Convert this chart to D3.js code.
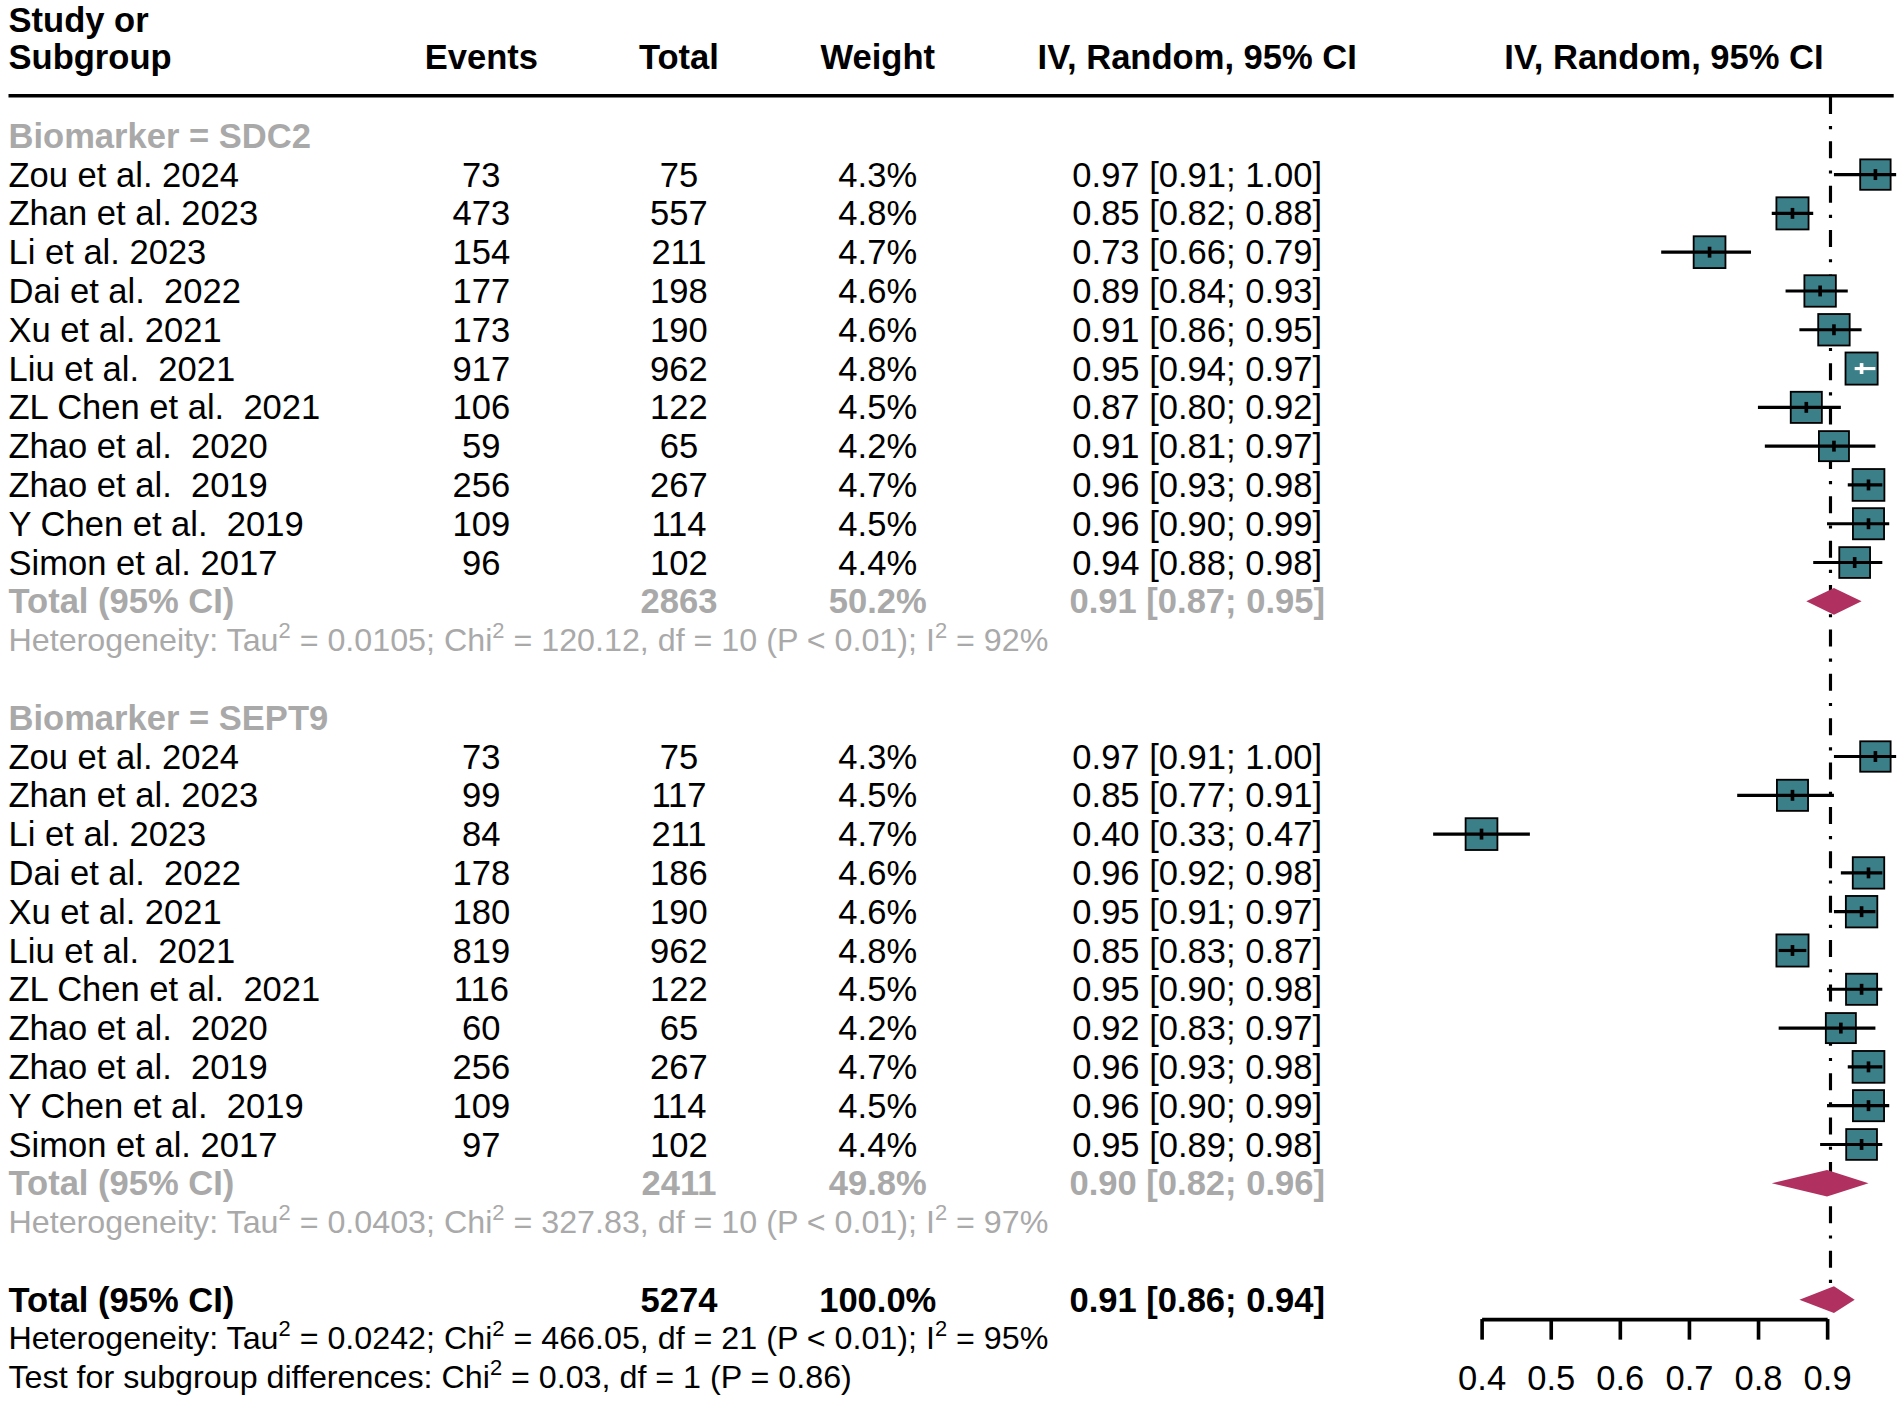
<!DOCTYPE html>
<html>
<head>
<meta charset="utf-8">
<script src="https://cdn.jsdelivr.net/npm/d3@7"></script>
<style>
  body { margin: 0; background: #fff; }
  text { font-family: "Liberation Sans", Arial, Helvetica, sans-serif; white-space: pre; }
</style>
</head>
<body>
<div class="forest"></div>
<script>
// study labels (same order in both subgroups)
var studies = ["Zou et al. 2024", "Zhan et al. 2023", "Li et al. 2023", "Dai et al.  2022",
               "Xu et al. 2021", "Liu et al.  2021", "ZL Chen et al.  2021", "Zhao et al.  2020",
               "Zhao et al.  2019", "Y Chen et al.  2019", "Simon et al. 2017"];
var subgroups = ["SDC2", "SEPT9"];

// SDC2
var sdc2Events = [73, 473, 154, 177, 173, 917, 106, 59, 256, 109, 96];
var sdc2Totals = [75, 557, 211, 198, 190, 962, 122, 65, 267, 114, 102];
var sdc2Weights = [4.3, 4.8, 4.7, 4.6, 4.6, 4.8, 4.5, 4.2, 4.7, 4.5, 4.4];
var sdc2Est = [0.97, 0.85, 0.73, 0.89, 0.91, 0.95, 0.87, 0.91, 0.96, 0.96, 0.94];
var sdc2Lo  = [0.91, 0.82, 0.66, 0.84, 0.86, 0.94, 0.80, 0.81, 0.93, 0.90, 0.88];
var sdc2Hi  = [1.00, 0.88, 0.79, 0.93, 0.95, 0.97, 0.92, 0.97, 0.98, 0.99, 0.98];

// SEPT9
var sept9Events = [73, 99, 84, 178, 180, 819, 116, 60, 256, 109, 97];
var sept9Totals = [75, 117, 211, 186, 190, 962, 122, 65, 267, 114, 102];
var sept9Weights = [4.3, 4.5, 4.7, 4.6, 4.6, 4.8, 4.5, 4.2, 4.7, 4.5, 4.4];
var sept9Est = [0.97, 0.85, 0.40, 0.96, 0.95, 0.85, 0.95, 0.92, 0.96, 0.96, 0.95];
var sept9Lo  = [0.91, 0.77, 0.33, 0.92, 0.91, 0.83, 0.90, 0.83, 0.93, 0.90, 0.89];
var sept9Hi  = [1.00, 0.91, 0.47, 0.98, 0.97, 0.87, 0.98, 0.97, 0.98, 0.99, 0.98];

// pooled: SDC2, SEPT9, overall
var poolTotals = [2863, 2411, 5274];
var poolWeights = [50.2, 49.8, 100.0];
var poolEst = [0.91, 0.90, 0.91];
var poolLo  = [0.87, 0.82, 0.86];
var poolHi  = [0.95, 0.96, 0.94];
var overallLine = 0.905;

// heterogeneity: SDC2, SEPT9, overall
var hetTau = ["0.0105", "0.0403", "0.0242"];
var hetChi = ["120.12", "327.83", "466.05"];
var hetDf = [10, 10, 21];
var hetP = ["P < 0.01", "P < 0.01", "P < 0.01"];
var hetI2 = [92, 97, 95];
var subDiffChi = "0.03", subDiffDf = 1, subDiffP = "0.86";

var axisTicks = [0.4, 0.5, 0.6, 0.7, 0.8, 0.9];

var grey = "#a9a9a9";
var teal = "#3b7f89";
var maroon = "#b03060";
var fs = 28.5, fsHet = 26.6;

var svg = d3.select('.forest').append('svg')
    .attr('width', 1901).attr('height', 1401)
    .attr('viewBox', '0 0 1568 1155.6');

var x = d3.scaleLinear().domain([0.4, 1.0]).range([1222, 1564]);
var rowY = function(i) { return 112 + 32 * i; };
var fmt2 = d3.format('.2f');
var ciText = function(e, l, h) { return fmt2(e) + ' [' + fmt2(l) + '; ' + fmt2(h) + ']'; };
var colEvents = 397, colTotal = 560, colWeight = 724, colCI = 987.5;

function txt(xp, y, s, opt) {
    opt = opt || {};
    return svg.append('text')
        .attr('x', xp).attr('y', y)
        .attr('font-size', opt.size || fs)
        .attr('font-weight', opt.bold ? 'bold' : 'normal')
        .attr('fill', opt.color || '#000')
        .attr('text-anchor', opt.anchor || 'start')
        .text(s);
}

// parts alternate normal text / superscript
function richText(xp, y, parts, color) {
    var t = svg.append('text').attr('x', xp).attr('y', y)
        .attr('font-size', fsHet).attr('fill', color);
    var shift = fsHet * 0.4;
    parts.forEach(function(p, i) {
        var ts = t.append('tspan').text(p);
        if (i % 2 === 1) ts.attr('font-size', fsHet * 0.68).attr('dy', -shift);
        else if (i > 0) ts.attr('dy', shift);
    });
}

// header
txt(7, 26, 'Study or', {bold: true});
txt(7, 57, 'Subgroup', {bold: true});
txt(colEvents, 57, 'Events', {bold: true, anchor: 'middle'});
txt(colTotal, 57, 'Total', {bold: true, anchor: 'middle'});
txt(colWeight, 57, 'Weight', {bold: true, anchor: 'middle'});
txt(colCI, 57, 'IV, Random, 95% CI', {bold: true, anchor: 'middle'});
txt(1372.5, 57, 'IV, Random, 95% CI', {bold: true, anchor: 'middle'});
svg.append('line').attr('x1', 7).attr('x2', 1562).attr('y1', 79).attr('y2', 79)
    .attr('stroke', '#000').attr('stroke-width', 3);

// reference line for the overall estimate
svg.append('line')
    .attr('x1', x(overallLine)).attr('x2', x(overallLine))
    .attr('y1', 80).attr('y2', rowY(30) - 10)
    .attr('stroke', '#000').attr('stroke-width', 2.6)
    .attr('stroke-dasharray', '14,10,2.6,10');

var groupData = [
    {events: sdc2Events, totals: sdc2Totals, weights: sdc2Weights, est: sdc2Est, lo: sdc2Lo, hi: sdc2Hi},
    {events: sept9Events, totals: sept9Totals, weights: sept9Weights, est: sept9Est, lo: sept9Lo, hi: sept9Hi}
];

function hetParts(k) {
    return ['Heterogeneity: Tau', '2', ' = ' + hetTau[k] + '; Chi', '2',
            ' = ' + hetChi[k] + ', df = ' + hetDf[k] + ' (' + hetP[k] + '); I', '2',
            ' = ' + hetI2[k] + '%'];
}

function diamond(k, row) {
    var cy = rowY(row), h = 11;
    svg.append('path')
        .attr('d', 'M' + x(poolLo[k]) + ',' + cy + 'L' + x(poolEst[k]) + ',' + (cy - h) +
                   'L' + x(poolHi[k]) + ',' + cy + 'L' + x(poolEst[k]) + ',' + (cy + h) + 'Z')
        .attr('fill', maroon);
}

groupData.forEach(function(g, k) {
    var base = k * 15;
    txt(7, rowY(base) + 10, 'Biomarker = ' + subgroups[k], {bold: true, color: grey});

    studies.forEach(function(s, i) {
        var r = base + 1 + i, y = rowY(r), by = y + 10;
        txt(7, by, s);
        txt(colEvents, by, g.events[i], {anchor: 'middle'});
        txt(colTotal, by, g.totals[i], {anchor: 'middle'});
        txt(colWeight, by, g.weights[i].toFixed(1) + '%', {anchor: 'middle'});
        txt(colCI, by, ciText(g.est[i], g.lo[i], g.hi[i]), {anchor: 'middle'});

        var side = 12.1 * Math.sqrt(g.weights[i]);
        var cx = x(g.est[i]);
        svg.append('rect')
            .attr('x', cx - side / 2).attr('y', y - side / 2)
            .attr('width', side).attr('height', side)
            .attr('fill', teal).attr('stroke', '#000').attr('stroke-width', 1.5);
        // CI drawn white when it sits well inside the box
        var ciw = x(g.hi[i]) - x(g.lo[i]);
        var col = ciw < 0.8 * side ? '#fff' : '#000';
        svg.append('line')
            .attr('x1', x(g.lo[i])).attr('x2', x(g.hi[i]))
            .attr('y1', y).attr('y2', y)
            .attr('stroke', col).attr('stroke-width', 2.6);
        svg.append('line')
            .attr('x1', cx).attr('x2', cx)
            .attr('y1', y - 4.5).attr('y2', y + 4.5)
            .attr('stroke', col).attr('stroke-width', 3);
    });

    var tr = base + 12;
    txt(7, rowY(tr) + 10, 'Total (95% CI)', {bold: true, color: grey});
    txt(colTotal, rowY(tr) + 10, poolTotals[k], {bold: true, color: grey, anchor: 'middle'});
    txt(colWeight, rowY(tr) + 10, poolWeights[k].toFixed(1) + '%', {bold: true, color: grey, anchor: 'middle'});
    txt(colCI, rowY(tr) + 10, ciText(poolEst[k], poolLo[k], poolHi[k]), {bold: true, color: grey, anchor: 'middle'});
    diamond(k, tr);
    richText(7, rowY(tr + 1) + 9, hetParts(k), grey);
});

// overall
txt(7, rowY(30) + 10, 'Total (95% CI)', {bold: true});
txt(colTotal, rowY(30) + 10, poolTotals[2], {bold: true, anchor: 'middle'});
txt(colWeight, rowY(30) + 10, poolWeights[2].toFixed(1) + '%', {bold: true, anchor: 'middle'});
txt(colCI, rowY(30) + 10, ciText(poolEst[2], poolLo[2], poolHi[2]), {bold: true, anchor: 'middle'});
diamond(2, 30);
richText(7, rowY(31) + 9, hetParts(2), '#000');
richText(7, rowY(32) + 9, ['Test for subgroup differences: Chi', '2',
    ' = ' + subDiffChi + ', df = ' + subDiffDf + ' (P = ' + subDiffP + ')'], '#000');

// x axis, drawn over the tick range only
var axisScale = d3.scaleLinear()
    .domain([axisTicks[0], axisTicks[axisTicks.length - 1]])
    .range([x(axisTicks[0]), x(axisTicks[axisTicks.length - 1])]);
var ax = svg.append('g')
    .attr('transform', 'translate(0,1088)')
    .call(d3.axisBottom(axisScale).tickValues(axisTicks)
        .tickSizeInner(17).tickSizeOuter(0).tickPadding(21).tickFormat(d3.format('.1f')));
ax.select('.domain').attr('stroke-width', 3);
ax.selectAll('.tick line').attr('stroke-width', 3);
ax.selectAll('.tick text').attr('font-size', fs)
    .attr('font-family', '"Liberation Sans", Arial, sans-serif');
</script>
</body>
</html>
